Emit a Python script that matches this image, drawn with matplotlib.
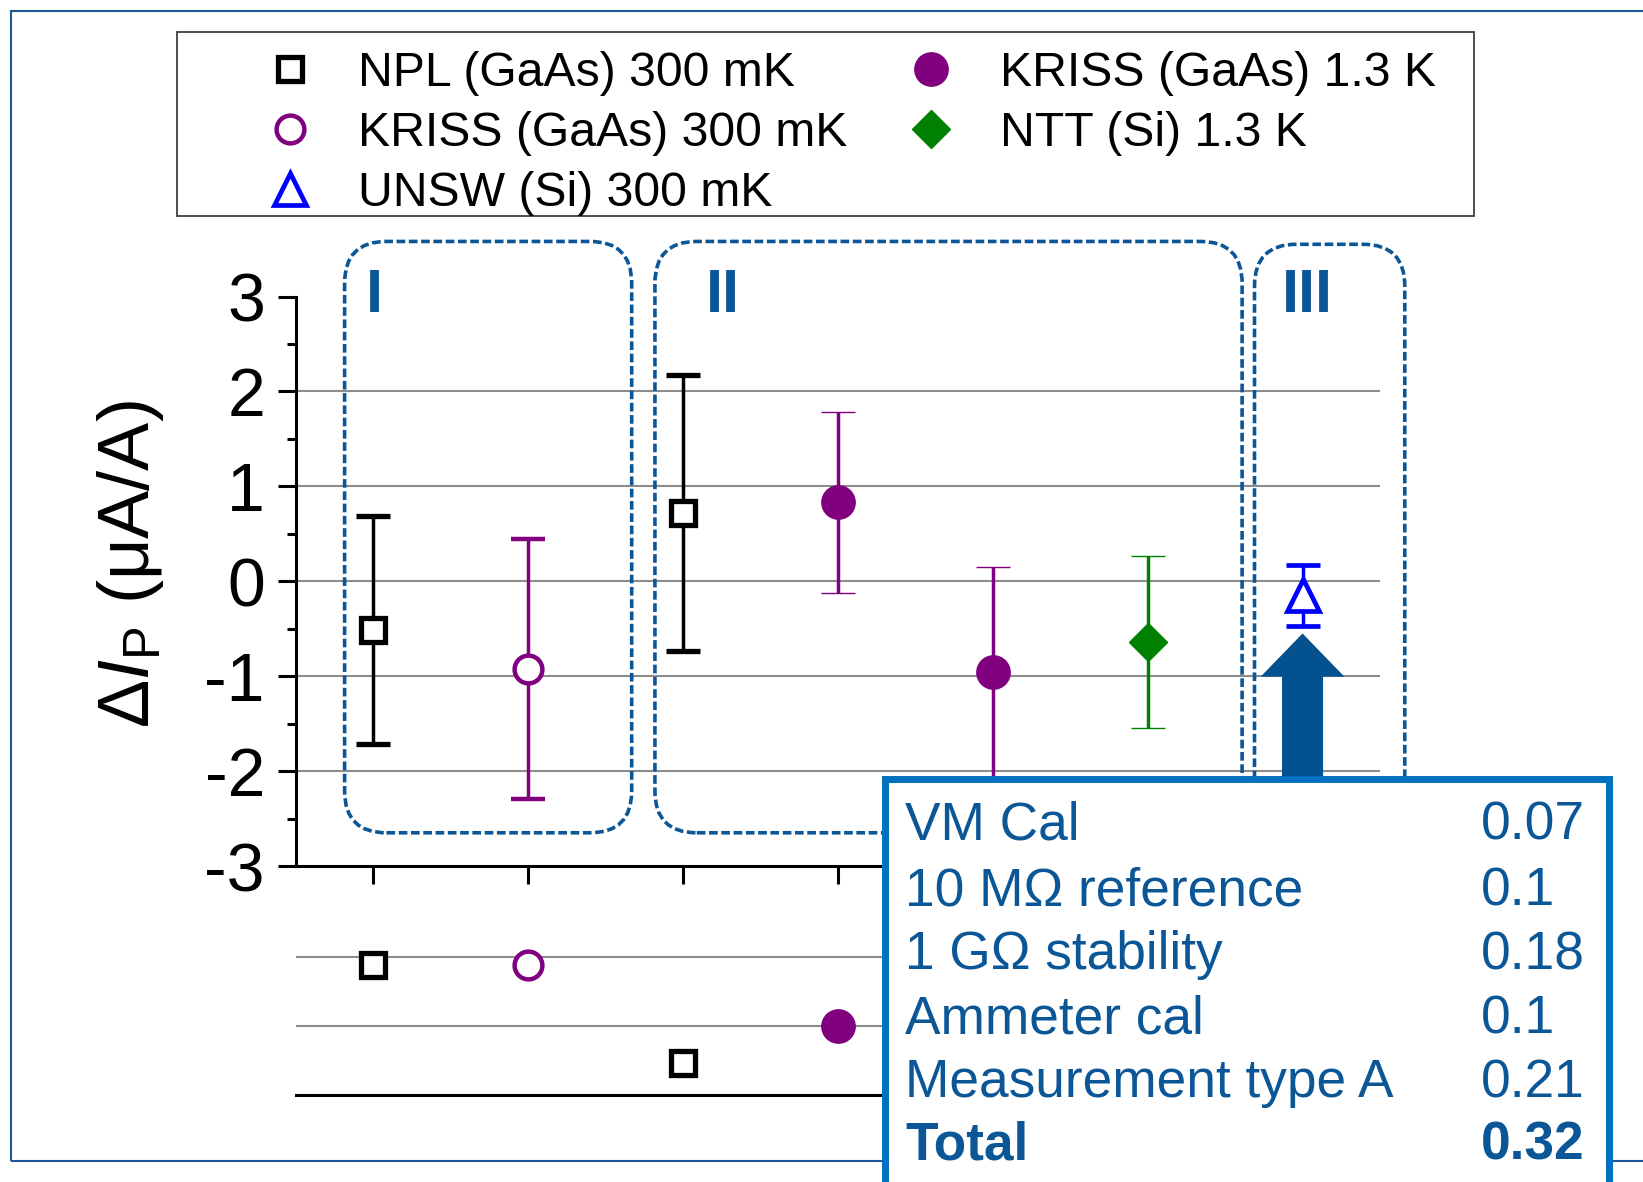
import matplotlib
matplotlib.use("Agg")
import matplotlib.pyplot as plt
from matplotlib.lines import Line2D
from matplotlib.patches import FancyBboxPatch, FancyArrow, Rectangle

plt.rcParams['font.family'] = ['Liberation Sans', 'DejaVu Sans']
plt.rcParams['mathtext.fontset'] = 'custom'
plt.rcParams['mathtext.rm'] = 'Liberation Sans'
plt.rcParams['mathtext.it'] = 'Liberation Sans:italic'
plt.rcParams['axes.unicode_minus'] = False

# ---- data, dI_P in uA/A ----
npl_x = [1, 3]
npl_y = [-0.51, 0.72]
npl_err = [1.20, 1.45]

kriss300_x = [2]
kriss300_y = [-0.92]
kriss300_err = [1.37]

unsw_x = [7]
unsw_y = [-0.15]
unsw_err = [0.32]

kriss13_x = [4, 5]
kriss13_y = [0.83, -0.96]
kriss13_err = [0.95, 1.11]

ntt_x = [6]
ntt_y = [-0.64]
ntt_err = [0.91]

# lower strip (secondary quantity, arbitrary units)
npl_low = [1.88, 0.46]
kriss300_low = [1.89]
kriss13_low_x = [4]
kriss13_low = [1.0]

grid_levels = [-2, -1, 0, 1, 2]
low_grid_levels = [1, 2]

group_names = ['I', 'II', 'III']

budget_labels = ['VM Cal', '10 MΩ reference', '1 GΩ stability',
                 'Ammeter cal', 'Measurement type A', 'Total']
budget_values = ['0.07', '0.1', '0.18', '0.1', '0.21', '0.32']

# ---- styles ----
BLACK = 'black'
PURPLE = '#800080'
GREEN = '#008000'
BLUE = '#0000FF'
DARKBLUE = '#0B5696'
FRAMEBLUE = '#0070C0'

W, H = 1643, 1182
fig = plt.figure(figsize=(W / 100, H / 100), dpi=100)


def fx(px):
    return px / W


def fy(py):
    return 1 - py / H


# outer frame (cut off at the right edge)
fig.add_artist(Rectangle((fx(10.5), fy(1161)), 1.5, (1161 - 11) / H,
                         transform=fig.transFigure, fill=False,
                         ec='#1B5A94', lw=1.5, zorder=0))

ax = fig.add_axes([fx(295.5), fy(866), (1380 - 295.5) / W, (866 - 296.5) / H])
ax.patch.set_alpha(0)
ax.set_xlim(0.5, 7.5)
ax.set_ylim(-3, 3)

ax.hlines(grid_levels, 0.5, 7.5, color='#8C8C8C', lw=1.5, zorder=1)

eb = dict(capsize=12, capthick=2.5, elinewidth=2.5, ls='none', zorder=3)
ax.errorbar(npl_x, npl_y, yerr=npl_err, marker='s', ms=17.5, mew=3.8,
            color=BLACK, mfc='white', mec=BLACK, **eb)
ax.errorbar(kriss300_x, kriss300_y, yerr=kriss300_err, marker='o', ms=20, mew=3.2,
            color=PURPLE, mfc='white', mec=PURPLE, **eb)
ax.errorbar(kriss13_x, kriss13_y, yerr=kriss13_err, marker='o', ms=24, mew=1,
            color=PURPLE, mfc=PURPLE, mec=PURPLE, **eb)
ax.errorbar(ntt_x, ntt_y, yerr=ntt_err, marker='D', ms=19, mew=1,
            color=GREEN, mfc=GREEN, mec=GREEN, **eb)
ax.errorbar(unsw_x, unsw_y, yerr=unsw_err, marker='^', ms=23, mew=3.4,
            color=BLUE, mfc='white', mec=BLUE, **eb)

for side in ['top', 'right']:
    ax.spines[side].set_visible(False)
for side in ['left', 'bottom']:
    ax.spines[side].set_linewidth(2.2)

ax.set_yticks([-3, -2, -1, 0, 1, 2, 3])
ax.set_yticks([-2.5, -1.5, -0.5, 0.5, 1.5, 2.5], minor=True)
ax.set_xticks(range(1, 8))
ax.tick_params(axis='y', which='major', direction='out', length=13, width=2.2,
               labelsize=49, pad=9)
ax.tick_params(axis='y', which='minor', direction='out', length=6.5, width=2.2)
ax.tick_params(axis='x', which='major', direction='out', length=13, width=2.2,
               labelbottom=False)

ax.set_ylabel(r'$\mathrm{\Delta}I_{\mathrm{P}}$ (μA/A)', fontsize=52, va='center')
ax.yaxis.set_label_coords(-0.152, 0.53)

# dashed group boxes
box_specs = [(0.817, 1.853, 3.58), (2.82, 3.79, 3.58), (6.69, 0.97, 3.55)]
for x0, w, top in box_specs:
    ax.add_patch(FancyBboxPatch((x0, -2.65), w, top + 2.65,
                                boxstyle='round,pad=0,rounding_size=0.27',
                                mutation_aspect=1.63, fill=False, ec=DARKBLUE,
                                lw=2.6, ls=(0, (2.4, 1.0)), clip_on=False, zorder=2))
for name, xpos in zip(group_names, [1.01, 3.26, 7.03]):
    ax.text(xpos, 3.0, name, ha='center', va='center', fontsize=44,
            weight='bold', color=DARKBLUE, clip_on=False)

# arrow pointing at the UNSW result
ax.add_patch(FancyArrow(7, -2.9, 0, 2.35, width=0.265, head_width=0.54,
                        head_length=0.455, length_includes_head=True,
                        color='#03528F', lw=0, clip_on=False, zorder=4))

# lower strip
ax2 = fig.add_axes([fx(295.5), fy(1095), (1380 - 295.5) / W, 165.6 / H])
ax2.patch.set_alpha(0)
ax2.set_xlim(0.5, 7.5)
ax2.set_ylim(0, 2.4)
ax2.hlines(low_grid_levels, 0.5, 7.5, color='#8C8C8C', lw=1.5, zorder=1)
ax2.plot(npl_x, npl_low, ls='none', marker='s', ms=17.5, mew=3.8,
         mfc='white', mec=BLACK, zorder=3)
ax2.plot(kriss300_x, kriss300_low, ls='none', marker='o', ms=20, mew=3.2,
         mfc='white', mec=PURPLE, zorder=3)
ax2.plot(kriss13_low_x, kriss13_low, ls='none', marker='o', ms=24, mew=1,
         mfc=PURPLE, mec=PURPLE, zorder=3)
for side in ['top', 'right', 'left']:
    ax2.spines[side].set_visible(False)
ax2.spines['bottom'].set_linewidth(2.2)
ax2.set_xticks([])
ax2.set_yticks([])

# legend
handles = [
    Line2D([], [], ls='none', marker='s', ms=17.5, mew=3.8, mfc='white', mec=BLACK),
    Line2D([], [], ls='none', marker='o', ms=20, mew=3.2, mfc='white', mec=PURPLE),
    Line2D([], [], ls='none', marker='^', ms=23, mew=3.4, mfc='white', mec=BLUE),
    Line2D([], [], ls='none', marker='o', ms=24, mew=1, mfc=PURPLE, mec=PURPLE),
    Line2D([], [], ls='none', marker='D', ms=19, mew=1, mfc=GREEN, mec=GREEN),
]
labels = ['NPL (GaAs) 300 mK', 'KRISS (GaAs) 300 mK', 'UNSW (Si) 300 mK',
          'KRISS (GaAs) 1.3 K', 'NTT (Si) 1.3 K']
fig.add_artist(Rectangle((fx(177), fy(216)), (1474 - 177) / W, (216 - 32) / H,
                         transform=fig.transFigure, fill=False, ec='#404040',
                         lw=1.3, zorder=1))
fig.legend(handles, labels, ncol=2, frameon=False, loc='upper left',
           bbox_to_anchor=(fx(251), fy(51)), borderpad=0, borderaxespad=0,
           handlelength=1.6, handletextpad=0.63, columnspacing=0.93,
           labelspacing=0.31, fontsize=34.7)

# uncertainty budget box
fig.add_artist(Rectangle((fx(884.5), fy(1300)), (1608.5 - 884.5) / W,
                         (1300 - 779.5) / H, transform=fig.transFigure,
                         fc='white', ec=FRAMEBLUE, lw=5, zorder=5))
baselines = [840, 905, 969, 1033, 1097, 1160]
for i, (lab, val) in enumerate(zip(budget_labels, budget_values)):
    weight = 'bold' if lab == 'Total' else 'normal'
    fig.text(fx(905), fy(baselines[i]), lab, ha='left', va='baseline',
             fontsize=38.3, color=DARKBLUE, weight=weight, zorder=6)
    fig.text(fx(1481), fy(baselines[i]), val, ha='left', va='baseline',
             fontsize=38.3, color=DARKBLUE, weight=weight, zorder=6)

fig.savefig('out.png', dpi=100, facecolor='white')
